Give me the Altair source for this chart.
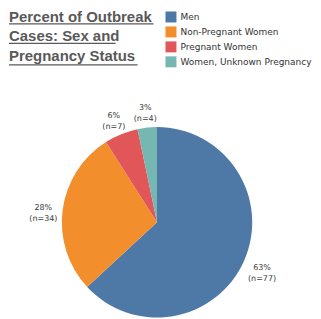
import altair as alt
import pandas as pd

categories = ["Men", "Non-Pregnant Women", "Pregnant Women", "Women, Unknown Pregnancy"]
counts = [77, 34, 7, 4]
percents = ["63%", "28%", "6%", "3%"]
colors = ["#4e79a7", "#f28e2b", "#e15759", "#76b7b2"]
title_lines = ["Percent of Outbreak", "Cases: Sex and", "Pregnancy Status"]

df = pd.DataFrame({
    "category": categories,
    "count": counts,
    "idx": list(range(len(categories))),
    "label": [f"{p}\n(n={c})" for p, c in zip(percents, counts)],
})

cx, cy = 148.5, 214.5

base = alt.Chart(df).encode(
    theta=alt.Theta("count:Q", stack=True),
    order=alt.Order("idx:Q"),
    x=alt.value(cx),
    y=alt.value(cy),
)

pie = base.mark_arc(outerRadius=95.5).encode(
    color=alt.Color(
        "category:N",
        scale=alt.Scale(domain=categories, range=colors),
        sort=categories,
        legend=alt.Legend(
            title=None,
            orient="none",
            legendX=157,
            legendY=3,
            symbolType="square",
            symbolSize=121,
            symbolStrokeWidth=0,
            labelFont="DejaVu Sans",
            labelFontSize=9,
            labelColor="#333333",
            labelLimit=400,
            rowPadding=4,
            labelOffset=4,
            padding=0,
        ),
    )
)

labels = base.mark_text(
    radius=115, font="DejaVu Sans", fontSize=8, color="#3a3a3a",
    lineBreak="\n", lineHeight=11, baseline="middle", align="center",
).encode(text="label:N")

layers = [pie, labels]
title_y = [13.5, 33, 53]
underline_y = [15.5, 35, 56.5]
underline_end = [145, 107, 129]
for line, ty, uy, ux in zip(title_lines, title_y, underline_y, underline_end):
    tdf = pd.DataFrame({"t": [line]})
    layers.append(
        alt.Chart(tdf).mark_text(
            font="Liberation Sans", fontSize=15, fontWeight="bold", color="#595959",
            align="left", baseline="alphabetic",
        ).encode(text="t:N", x=alt.value(0), y=alt.value(ty))
    )
    layers.append(
        alt.Chart(tdf).mark_rule(color="#595959", strokeWidth=1.2).encode(
            x=alt.value(0), x2=alt.value(ux), y=alt.value(uy))
    )

chart = alt.layer(*layers).properties(
    width=305, height=303, padding=0
).configure_view(stroke=None)

chart.save("out.html", embed_options={"renderer": "svg", "actions": False})
